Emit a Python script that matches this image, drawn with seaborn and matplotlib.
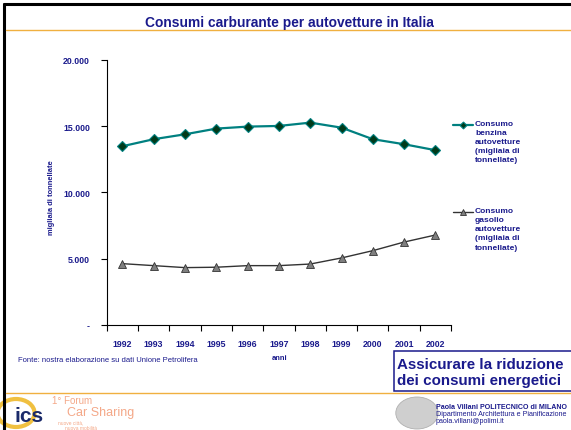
import numpy as np
import pandas as pd
import matplotlib
matplotlib.use("Agg")
import matplotlib.pyplot as plt
import seaborn as sns
from matplotlib.patches import Rectangle, Circle
from matplotlib.lines import Line2D
from matplotlib.ticker import FixedLocator, FuncFormatter

# data
anni = ["1992", "1993", "1994", "1995", "1996", "1997", "1998", "1999", "2000", "2001", "2002"]
benzina = [13490, 14020, 14390, 14820, 14970, 15020, 15270, 14890, 14020, 13640, 13190]
gasolio = [4630, 4480, 4330, 4360, 4480, 4480, 4600, 5060, 5610, 6260, 6790]
serie = ["Consumo\nbenzina\nautovetture\n(migliaia di\ntonnellate)",
         "Consumo\ngasolio\nautovetture\n(migliaia di\ntonnellate)"]

navy = "#1a1a8c"
teal = "#008080"
orange = "#f0b040"
W, H = 571.0, 431.0

sns.set_theme(style="white")
plt.rcParams["font.family"] = ["Liberation Sans", "DejaVu Sans"]

df = pd.DataFrame({
    "pos": list(range(len(anni))) * 2,
    "valore": benzina + gasolio,
    "serie": [serie[0]] * len(anni) + [serie[1]] * len(anni),
})

fig = plt.figure(figsize=(5.71, 4.31), dpi=100)
ax = fig.add_axes([0.187, 0.2436, 0.603, 0.615])

stili = {
    serie[0]: dict(color=teal, lw=1.6, marker="D", markersize=5,
                   markerfacecolor="#003a1a", markeredgecolor=teal, markeredgewidth=0.8),
    serie[1]: dict(color="#333333", lw=1.0, marker="^", markersize=6,
                   markerfacecolor="#7f7f7f", markeredgecolor="#333333", markeredgewidth=0.6),
}
for s in serie:
    sns.lineplot(data=df[df.serie == s], x="pos", y="valore", ax=ax, **stili[s])

ax.set_xlim(-0.5, len(anni) - 0.5)
ax.set_ylim(0, 20000)
ax.set_xlabel("")
ax.set_ylabel("")
ax.xaxis.set_major_locator(FixedLocator(np.arange(-0.5, len(anni), 1.0)))
ax.xaxis.set_minor_locator(FixedLocator(np.arange(len(anni))))
ax.xaxis.set_major_formatter(FuncFormatter(lambda v, p: ""))
ax.xaxis.set_minor_formatter(FuncFormatter(lambda v, p: anni[int(round(v))]))
ax.tick_params(axis="x", which="major", direction="out", length=4, width=0.8,
               color="black", bottom=True)
ax.tick_params(axis="x", which="minor", length=0, pad=10, labelsize=6.3,
               labelcolor=navy, bottom=True)
for t in ax.xaxis.get_minorticklabels():
    t.set_fontweight("bold")

ax.set_yticks([0, 5000, 10000, 15000, 20000])
ax.set_yticklabels(["-", "5.000", "10.000", "15.000", "20.000"],
                   fontsize=6.3, fontweight="bold", color=navy)
ax.tick_params(axis="y", direction="out", length=4, width=0.8, color="black", left=True, pad=8)

for s in ["top", "right"]:
    ax.spines[s].set_visible(False)
for s in ["left", "bottom"]:
    ax.spines[s].set_color("black")
    ax.spines[s].set_linewidth(0.8)
ax.grid(False)
if ax.get_legend():
    ax.get_legend().remove()

# legend drawn by hand next to the plot (pixel positions from top-left)
for s, ypx in [(serie[0], 125.7), (serie[1], 213.0)]:
    st = dict(stili[s])
    st["markersize"] = st["markersize"] * 0.7
    yf = 1 - ypx / H
    fig.add_artist(Line2D([453 / W, 463 / W, 473 / W], [yf, yf, yf],
                          transform=fig.transFigure, markevery=[1], **st))
    fig.text(475 / W, yf + 4.8 / H, s, ha="left", va="top", fontsize=6,
             fontweight="bold", color=navy, linespacing=1.42)

# axis labels and source
fig.text(51.7 / W, 1 - 198 / H, "migliaia di tonnellate", rotation=90, ha="center",
         va="center", fontsize=5.4, fontweight="bold", color=navy)
fig.text(279.5 / W, 1 - 358 / H, "anni", ha="center", va="center", fontsize=5.4,
         fontweight="bold", color=navy)
fig.text(18 / W, 1 - 360.7 / H, "Fonte: nostra elaborazione su dati Unione Petrolifera",
         ha="left", va="center", fontsize=5.5, color=navy)

# slide frame
fig.add_artist(Line2D([4 / W, 4 / W], [0, 1 - 5 / H], color="black", lw=2.2,
                      transform=fig.transFigure))
fig.add_artist(Line2D([4 / W, 1], [1 - 5 / H, 1 - 5 / H], color="black", lw=2.2,
                      transform=fig.transFigure))
fig.add_artist(Line2D([6 / W, 1], [1 - 31 / H, 1 - 31 / H], color=orange, lw=1,
                      transform=fig.transFigure))
fig.add_artist(Line2D([6 / W, 1], [1 - 394 / H, 1 - 394 / H], color=orange, lw=1,
                      transform=fig.transFigure))
fig.text(145 / W, 1 - 22.5 / H, "Consumi carburante per autovetture in Italia", ha="left",
         va="center", fontsize=9.9, fontweight="bold", color=navy)

# message box
fig.add_artist(Rectangle((394 / W, 1 - 392 / H), (W - 392) / W, 40 / H,
                         transform=fig.transFigure, facecolor="white",
                         edgecolor=navy, lw=1.1))
fig.text(397 / W, 1 - 365 / H, "Assicurare la riduzione", ha="left", va="center",
         fontsize=10.9, fontweight="bold", color=navy)
fig.text(397 / W, 1 - 381.5 / H, "dei consumi energetici", ha="left", va="center",
         fontsize=10.9, fontweight="bold", color=navy)

# footer logos
fig.add_artist(Circle((16 / W, 1 - 414 / H), 14 / H, transform=fig.transFigure,
                      facecolor="white", edgecolor="#f0c040", lw=3))
fig.text(14 / W, 1 - 417 / H, "ics", ha="left", va="center", fontsize=15,
         fontweight="bold", color="#1a2a6a")
fig.text(52 / W, 1 - 401 / H, "1° Forum", ha="left", va="center", fontsize=7,
         color="#f4a888")
fig.text(67 / W, 1 - 413 / H, "Car Sharing", ha="left", va="center", fontsize=9,
         color="#f4a888")
fig.text(58 / W, 1 - 423 / H, "nuove città,", ha="left", va="center", fontsize=3.5,
         color="#f4a888")
fig.text(65 / W, 1 - 428.5 / H, "nuova mobilità", ha="left", va="center", fontsize=3.5,
         color="#f4a888")
fig.add_artist(Circle((417 / W, 1 - 414 / H), 16 / H, transform=fig.transFigure,
                      facecolor="#cfcfcf", edgecolor="#b0b0b0", lw=0.6))
fig.text(436 / W, 1 - 408 / H, "Paola Villani POLITECNICO di MILANO", ha="left",
         va="center", fontsize=5.1, fontweight="bold", color=navy)
fig.text(436 / W, 1 - 415 / H, "Dipartimento Architettura e Pianificazione", ha="left",
         va="center", fontsize=5.1, color=navy)
fig.text(436 / W, 1 - 421.5 / H, "paola.villani@polimi.it", ha="left", va="center",
         fontsize=5.1, color=navy)

fig.savefig("out.png", dpi=100)
